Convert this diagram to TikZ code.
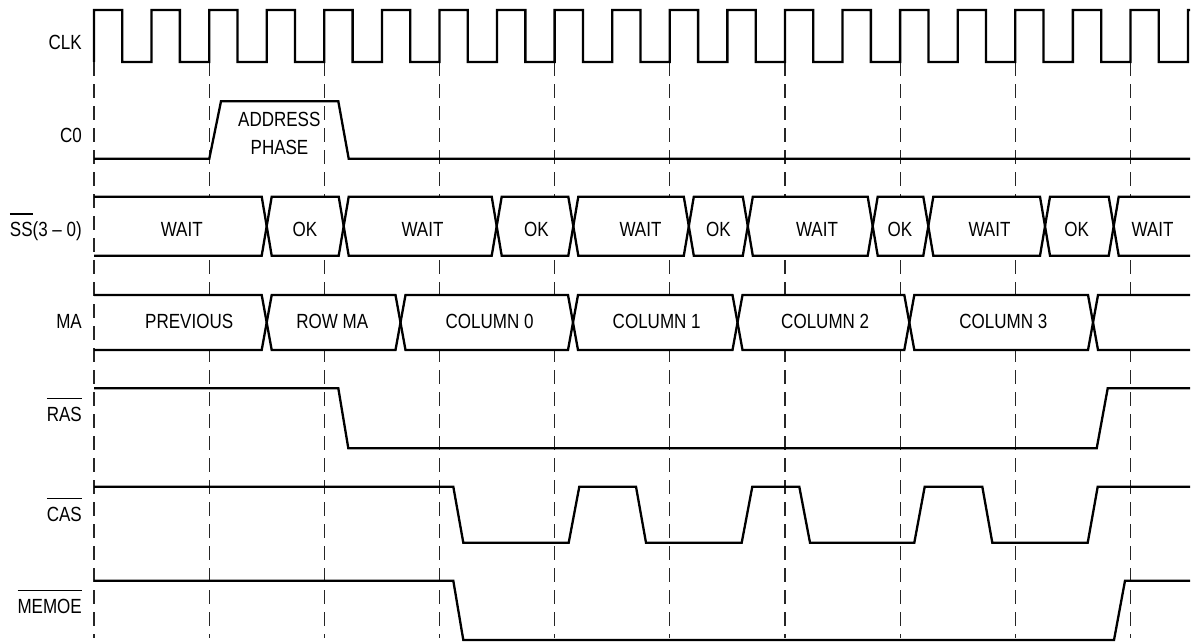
\documentclass[tikz,border=0pt]{standalone}
\usepackage{fontspec}
\setmainfont{Liberation Sans}[FakeStretch=0.83]
\newcommand\myovl[1]{\vbox{\hrule height 1.3pt\kern 7.6pt\hbox{#1}}}
\begin{document}
\begin{tikzpicture}[x=1pt,y=-1pt,
  sig/.style={line width=2.3pt, line join=miter, miter limit=2},
  grid/.style={line width=1.2pt, black!85, dash pattern=on 14pt off 8pt},
  lbl/.style={anchor=base east, inner sep=0pt, font=\fontsize{20.5}{24}\selectfont},
  txt/.style={anchor=base, inner sep=0pt, font=\fontsize{20.5}{24}\selectfont}]
\useasboundingbox (0,0) rectangle (1193,642);
% grid
\foreach \k in {0,...,9} \draw[grid] ({94+\k*115.16},62) -- ({94+\k*115.16},638);
% CLK
\draw[sig] (94,62) \foreach \k in {0,...,18}{ -- ({94+\k*57.58},10) -- ({94+\k*57.58+28.3},10) -- ({94+\k*57.58+28.3},62) -- ({94+(\k+1)*57.58},62)} -- (1188,10) -- (1190,10);
% C0
\draw[sig] (94,158.7) -- (209.3,158.7) -- (221,101.3) -- (338.3,101.3) -- (348.7,158.7) -- (1190,158.7);
\node[txt] (addr) at (279.3,126.7) {ADDRESS};
\node[txt] (phase) at (279.5,154) {PHASE};
% SS bus
\def\top{196.7}\def\bot{255.7}\def\mid{226.2}
\fill[white] (95,\top) rectangle (1190,\bot);
\draw[sig] (94,\top) -- (261.7,\top) -- (266.7,\mid) -- (261.7,\bot) -- (94,\bot);
\foreach \a/\b in {266.7/343.7,343.7/496.7,496.7/573.3,573.3/688.8,688.8/747.8,747.8/872.7,872.7/928.3,928.3/1045,1045/1113.7}
  \draw[sig] (\a,\mid) -- ({\a+5},\top) -- ({\b-5},\top) -- (\b,\mid) -- ({\b-5},\bot) -- ({\a+5},\bot) -- cycle;
\draw[sig] (1190,\top) -- (1118.7,\top) -- (1113.7,\mid) -- (1118.7,\bot) -- (1190,\bot);
\foreach \x/\t [count=\i] in {181.7/WAIT,304.8/OK,422.5/WAIT,536.3/OK,640.5/WAIT,718.3/OK,817/WAIT,900/OK,989.5/WAIT,1076.7/OK,1152.5/WAIT}
  \node[txt] (ss\i) at (\x,236.5) {\t};
% MA bus
\def\top{295}\def\bot{350}\def\mid{322.5}
\fill[white] (95,\top) rectangle (1190,\bot);
\draw[sig] (94,\top) -- (261.7,\top) -- (266.7,\mid) -- (261.7,\bot) -- (94,\bot);
\foreach \a/\b in {266.7/400.5,400.5/573,573/737.5,737.5/909.3,909.3/1093}
  \draw[sig] (\a,\mid) -- ({\a+5},\top) -- ({\b-5},\top) -- (\b,\mid) -- ({\b-5},\bot) -- ({\a+5},\bot) -- cycle;
\draw[sig] (1190,\top) -- (1098,\top) -- (1093,\mid) -- (1098,\bot) -- (1190,\bot);
\foreach \x/\t [count=\i] in {189.2/PREVIOUS,332.2/ROW MA,489.6/COLUMN 0,656.7/COLUMN 1,825.2/COLUMN 2,1003.3/COLUMN 3}
  \node[txt] (ma\i) at (\x,328.3) {\t};
% RAS
\draw[sig] (94,388.3) -- (338.3,388.3) -- (348.3,448.3) -- (1096.7,448.3) -- (1107.7,388.3) -- (1190,388.3);
% CAS
\draw[sig] (94,486.7) -- (453.3,486.7) -- (463.3,542.7) -- (568.7,542.7) -- (579.3,486.7) -- (636,486.7) -- (646,542.7) -- (741.7,542.7) -- (752.3,486.7) -- (799.3,486.7) -- (810,542.7) -- (914.3,542.7) -- (924.7,486.7) -- (982.3,486.7) -- (992.3,542.7) -- (1087.7,542.7) -- (1097.7,486.7) -- (1190,486.7);
% MEMOE
\draw[sig] (94,580.7) -- (453.3,580.7) -- (463.3,640) -- (1114,640) -- (1125,580.7) -- (1190,580.7);
% labels
\node[lbl] (lclk) at (82,50) {CLK};
\node[lbl] (lc0) at (82,142.3) {C0};
\node[lbl] (lss) at (82,236.5) {\myovl{SS}(3 – 0)};
\node[lbl] (lma) at (82,328.3) {MA};
\node[lbl] (lras) at (82,421) {\myovl{RAS}};
\node[lbl] (lcas) at (82,521) {\myovl{CAS}};
\node[lbl] (lmem) at (82,613) {\myovl{MEMOE}};
\end{tikzpicture}
\end{document}
